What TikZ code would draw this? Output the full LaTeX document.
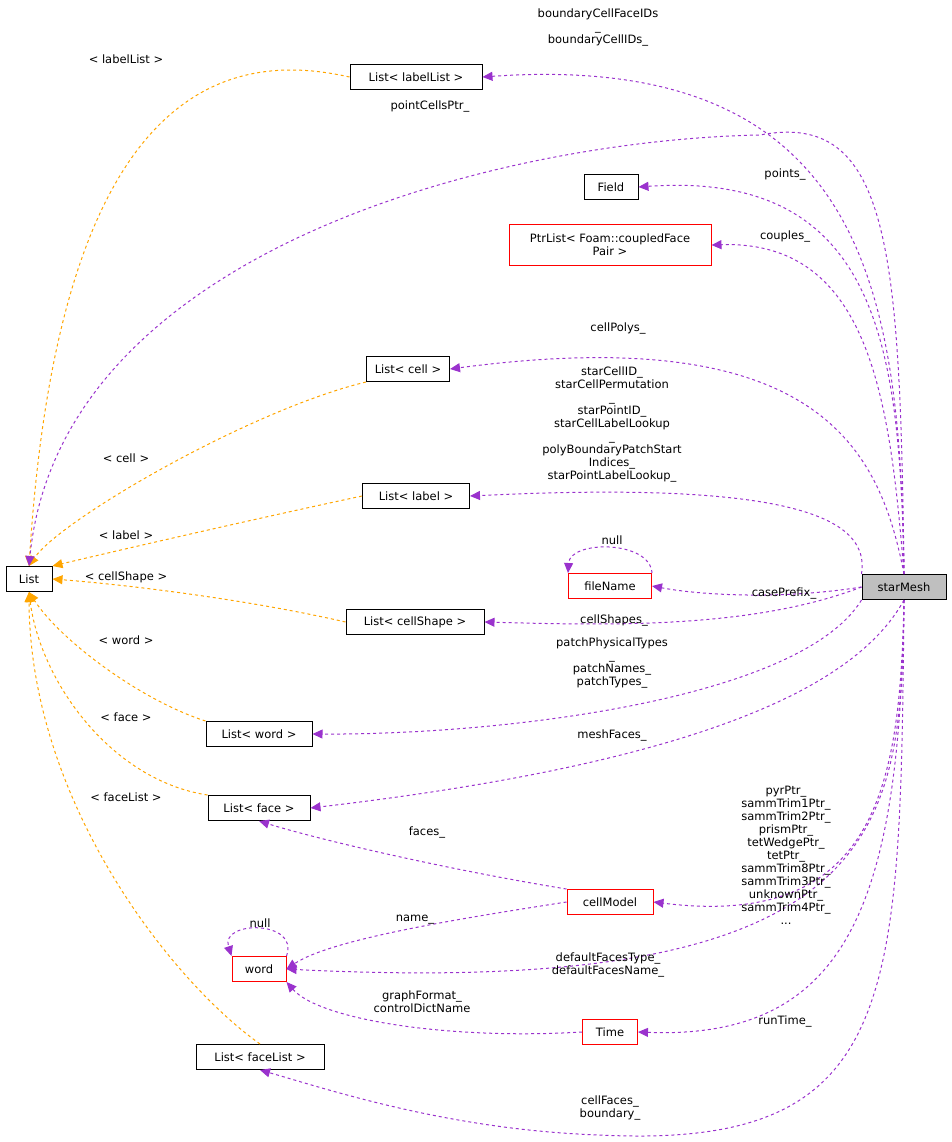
\documentclass[tikz,border=0pt]{standalone}
\usepackage{fontspec}
\setmainfont{DejaVu Sans}
\usetikzlibrary{arrows.meta}
\definecolor{usecol}{HTML}{9A32CD}
\definecolor{tplcol}{HTML}{FFA500}
\tikzset{
  cls/.style = {draw, rectangle, line width = 1pt, inner sep = 2pt, minimum height = 25pt, font = \fontsize{11.5}{13}\selectfont},
  redcls/.style = {cls, draw = red},
  lbl/.style = {font = \fontsize{11.5}{13}\selectfont, align = center, inner sep = 0pt},
  use/.style = {dashed, line width = 1pt, draw = usecol, -{Triangle[length = 10pt, width = 9pt, fill = usecol]}},
  tpl/.style = {dashed, line width = 1pt, draw = tplcol, -{Triangle[length = 10pt, width = 9pt, fill = tplcol]}}
}
\begin{document}
\begin{tikzpicture}[x = 1pt, y = -1pt]
  \useasboundingbox (0, 0) rectangle (951, 1142);

  % classes
  \node[cls, fill = black!25, minimum width = 84pt] (mesh) at (904, 587) {starMesh};
  \node[cls, minimum width = 46pt] (list) at (29, 579) {List};
  \node[cls, minimum width = 132pt] (llist) at (416, 77) {List< labelList >};
  \node[cls, minimum width = 54pt] (field) at (611, 187) {Field};
  \node[redcls, minimum width = 202pt, minimum height = 41pt, align = center] (ptr) at (610, 245) {PtrList< Foam::coupledFace\\Pair >};
  \node[cls, minimum width = 83pt] (lcell) at (408, 369) {List< cell >};
  \node[cls, minimum width = 107pt] (llabel) at (416, 496) {List< label >};
  \node[redcls, minimum width = 83pt] (fname) at (610, 586) {fileName};
  \node[cls, minimum width = 138pt] (lshape) at (415, 622) {List< cellShape >};
  \node[cls, minimum width = 106pt] (lword) at (259, 734) {List< word >};
  \node[cls, minimum width = 102pt] (lface) at (259, 808) {List< face >};
  \node[redcls, minimum width = 86pt] (model) at (610, 902) {cellModel};
  \node[redcls, minimum width = 54pt] (word) at (259, 969) {word};
  \node[redcls, minimum width = 55pt] (time) at (610, 1032) {Time};
  \node[cls, minimum width = 128pt] (lflist) at (260, 1057) {List< faceList >};

  % template instances
  \draw[tpl] (llist.west) .. controls (230, 50) and (60, 80) .. (list.north);
  \draw[tpl] (lcell.south west) .. controls (250, 410) and (60, 520) .. (list.north);
  \draw[tpl] (llabel.west) .. controls (250, 520) and (120, 550) .. (list.north east);
  \draw[tpl] (lshape.west) .. controls (250, 600) and (130, 585) .. (list.east);
  \draw[tpl] (lword.north west) .. controls (140, 700) and (60, 640) .. (list.south);
  \draw[tpl] (lface.north west) .. controls (110, 780) and (40, 680) .. (list.south);
  \draw[tpl] (lflist.north) .. controls (170, 980) and (30, 800) .. (list.south);
  \node[lbl] (tl1) at (126, 59) {< labelList >};
  \node[lbl] (tl2) at (126, 458) {< cell >};
  \node[lbl] (tl3) at (126, 535) {< label >};
  \node[lbl] (tl4) at (126, 577) {< cellShape >};
  \node[lbl] (tl5) at (126, 640) {< word >};
  \node[lbl] (tl6) at (126, 717) {< face >};
  \node[lbl] (tl7) at (126, 797) {< faceList >};

  % members
  \draw[use] (mesh.north) .. controls (900, 300) and (870, 50) .. (llist.east);
  \draw[use] (mesh.north) .. controls (900, 250) and (890, 110) .. (760, 135) .. controls (500, 140) and (60, 250) .. (list.north);
  \draw[use] (mesh.north) .. controls (900, 350) and (880, 170) .. (field.east);
  \draw[use] (mesh.north) .. controls (890, 400) and (870, 240) .. (ptr.east);
  \draw[use] (mesh.north) .. controls (880, 450) and (820, 320) .. (lcell.east);
  \draw[use] (mesh.north west) .. controls (870, 520) and (800, 480) .. (llabel.east);
  \draw[use] (mesh.west) .. controls (780, 600) and (700, 595) .. (fname.east);
  \draw[use] (mesh.west) .. controls (750, 630) and (600, 625) .. (lshape.east);
  \draw[use] (mesh.south west) .. controls (800, 700) and (500, 735) .. (lword.east);
  \draw[use] (mesh.south) .. controls (860, 680) and (720, 760) .. (lface.east);
  \draw[use] (mesh.south) .. controls (900, 780) and (880, 930) .. (model.east);
  \draw[use] (mesh.south) .. controls (900, 820) and (900, 1000) .. (word.east);
  \draw[use] (mesh.south) .. controls (900, 900) and (850, 1040) .. (time.east);
  \draw[use] (mesh.south) .. controls (900, 1000) and (900, 1150) .. (600, 1135) .. controls (450, 1130) and (330, 1090) .. (lflist.south);
  \draw[use] (model.north west) .. controls (450, 870) and (320, 840) .. (lface.south);
  \draw[use] (model.west) .. controls (450, 920) and (330, 940) .. (word.east);
  \draw[use] (time.west) .. controls (450, 1040) and (320, 1020) .. (word.south east);
  \draw[use] (fname.north east) .. controls (650, 540) and (570, 540) .. (fname.north west);
  \draw[use] (word.north east) .. controls (300, 920) and (220, 920) .. (word.north west);

  % member labels
  \node[lbl] (m1) at (598, 27) {boundaryCellFaceIDs\\\_\\boundaryCellIDs\_};
  \node[lbl] (m2) at (430, 106) {pointCellsPtr\_};
  \node[lbl] (m3) at (785, 174) {points\_};
  \node[lbl] (m4) at (785, 236) {couples\_};
  \node[lbl] (m5) at (618, 328) {cellPolys\_};
  \node[lbl] (m6) at (612, 424) {starCellID\_\\starCellPermutation\\\_\\starPointID\_\\starCellLabelLookup\\\_\\polyBoundaryPatchStart\\Indices\_\\starPointLabelLookup\_};
  \node[lbl] (m7) at (612, 540) {null};
  \node[lbl] (m8) at (784, 593) {casePrefix\_};
  \node[lbl] (m9) at (614, 620) {cellShapes\_};
  \node[lbl] (m10) at (612, 663) {patchPhysicalTypes\\\_\\patchNames\_\\patchTypes\_};
  \node[lbl] (m11) at (612, 735) {meshFaces\_};
  \node[lbl] (m12) at (786, 855) {pyrPtr\_\\sammTrim1Ptr\_\\sammTrim2Ptr\_\\prismPtr\_\\tetWedgePtr\_\\tetPtr\_\\sammTrim8Ptr\_\\sammTrim3Ptr\_\\unknownPtr\_\\sammTrim4Ptr\_\\...};
  \node[lbl] (m13) at (427, 832) {faces\_};
  \node[lbl] (m14) at (415, 920) {name\_};
  \node[lbl] (m15) at (260, 923) {null};
  \node[lbl] (m16) at (608, 965) {defaultFacesType\_\\defaultFacesName\_};
  \node[lbl] (m17) at (422, 1002) {graphFormat\_\\controlDictName};
  \node[lbl] (m18) at (785, 1021) {runTime\_};
  \node[lbl] (m19) at (610, 1108) {cellFaces\_\\boundary\_};
\end{tikzpicture}
\end{document}
